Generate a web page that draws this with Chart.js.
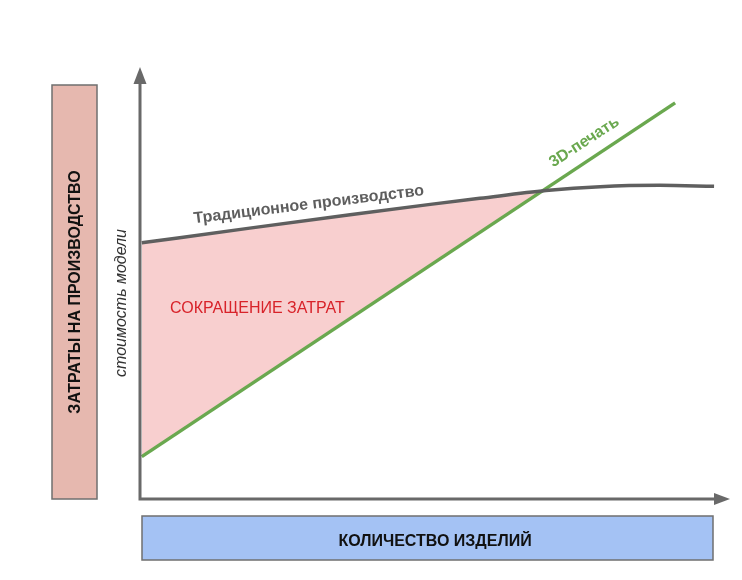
<!DOCTYPE html>
<html>
<head>
<meta charset="utf-8">
<script src="https://cdn.jsdelivr.net/npm/chart.js@4"></script>
<style>
  html, body { margin: 0; padding: 0; background: #fff; }
  #chart { display: block; }
</style>
</head>
<body>
<canvas id="chart" width="742" height="580"></canvas>
<script>
// данные (условные единицы, 0..100 по обеим осям)
const tradX = [0.3, 18.6, 35.6, 49.2, 57.6, 68.8, 78.0, 88.1, 97.3];
const tradY = [59.3, 62.7, 65.8, 68.2, 69.6, 71.4, 72.3, 72.6, 72.4];
const printX = [0.3, 90.7];
const printY = [9.8, 91.7];

const tradLabel = "Традиционное производство";
const printLabel = "3D-печать";
const savingLabel = "СОКРАЩЕНИЕ ЗАТРАТ";
const yTitle = "ЗАТРАТЫ НА ПРОИЗВОДСТВО";
const ySubTitle = "стоимость модели";
const xTitle = "КОЛИЧЕСТВО ИЗДЕЛИЙ";

const toPoints = (xs, ys) => xs.map((x, i) => ({ x: x, y: ys[i] }));

const FONT = "'Liberation Sans', Arial, sans-serif";

// подписи, фон и стрелки осей
const decor = {
  id: "decor",
  beforeDatasetsDraw(chart) {
    const c = chart.ctx;
    c.save();
    // розовая плашка слева
    c.fillStyle = "#e6b8af";
    c.strokeStyle = "#6f6f6f";
    c.lineWidth = 1.5;
    c.fillRect(52, 85, 45, 414);
    c.strokeRect(52, 85, 45, 414);
    // синяя плашка снизу
    c.fillStyle = "#a4c2f4";
    c.fillRect(142, 516, 571, 44);
    c.strokeRect(142, 516, 571, 44);

    c.textAlign = "center";
    c.textBaseline = "middle";
    c.fillStyle = "#111";
    c.font = "bold 16px " + FONT;
    c.fillText(xTitle, 435, 542);

    c.save();
    c.translate(76, 292);
    c.rotate(-Math.PI / 2);
    c.fillText(yTitle, 0, 0);
    c.restore();

    c.save();
    c.translate(122, 303);
    c.rotate(-Math.PI / 2);
    c.fillStyle = "#333";
    c.font = "italic 16px " + FONT;
    c.fillText(ySubTitle, 0, 0);
    c.restore();
    c.restore();
  },
  afterDatasetsDraw(chart) {
    const c = chart.ctx;
    const xs = chart.scales.x, ys = chart.scales.y;
    const ox = xs.left, oy = ys.bottom;
    c.save();
    c.strokeStyle = "#696969";
    c.fillStyle = "#696969";
    c.lineWidth = 3;
    c.beginPath();
    c.moveTo(ox, oy);
    c.lineTo(ox, ys.top + 14);
    c.moveTo(ox - 1.5, oy);
    c.lineTo(xs.right - 14, oy);
    c.stroke();
    // стрелки
    c.beginPath();
    c.moveTo(ox, ys.top);
    c.lineTo(ox - 6.5, ys.top + 17);
    c.lineTo(ox + 6.5, ys.top + 17);
    c.closePath();
    c.fill();
    c.beginPath();
    c.moveTo(xs.right, oy);
    c.lineTo(xs.right - 16, oy - 6);
    c.lineTo(xs.right - 16, oy + 6);
    c.closePath();
    c.fill();

    c.textAlign = "center";
    c.textBaseline = "middle";

    c.save();
    c.translate(xs.getPixelForValue(28.6), ys.getPixelForValue(68.1));
    c.rotate(-7 * Math.PI / 180);
    c.fillStyle = "#5e5e5e";
    c.font = "bold 16px " + FONT;
    c.fillText(tradLabel, 0, 0);
    c.restore();

    c.save();
    c.translate(xs.getPixelForValue(75.3), ys.getPixelForValue(82.6));
    c.rotate(-33 * Math.PI / 180);
    c.fillStyle = "#6aa84f";
    c.font = "bold 16px " + FONT;
    c.fillText(printLabel, 0, 0);
    c.restore();

    c.fillStyle = "#d8232a";
    c.font = "16px " + FONT;
    c.fillText(savingLabel, xs.getPixelForValue(19.9), ys.getPixelForValue(44.1));
    c.restore();
  }
};

new Chart(document.getElementById("chart"), {
  type: "line",
  data: {
    datasets: [
      {
        label: tradLabel,
        data: toPoints(tradX, tradY),
        borderColor: "#5f5f5f",
        borderWidth: 3.5,
        pointRadius: 0,
        cubicInterpolationMode: "monotone",
        fill: { target: 1, above: "#f8cfcf", below: "rgba(0,0,0,0)" },
      },
      {
        label: printLabel,
        data: toPoints(printX, printY),
        borderColor: "#6aa84f",
        borderWidth: 3.5,
        pointRadius: 0,
        fill: false,
      },
    ],
  },
  options: {
    responsive: false,
    animation: false,
    devicePixelRatio: 1,
    layout: { padding: { left: 140, right: 12, top: 67, bottom: 81 } },
    plugins: {
      legend: { display: false },
      tooltip: { enabled: false },
      filler: { drawTime: "beforeDatasetsDraw" },
    },
    scales: {
      x: { type: "linear", min: 0, max: 100, display: false },
      y: { type: "linear", min: 0, max: 100, display: false },
    },
  },
  plugins: [decor],
});
</script>
</body>
</html>
